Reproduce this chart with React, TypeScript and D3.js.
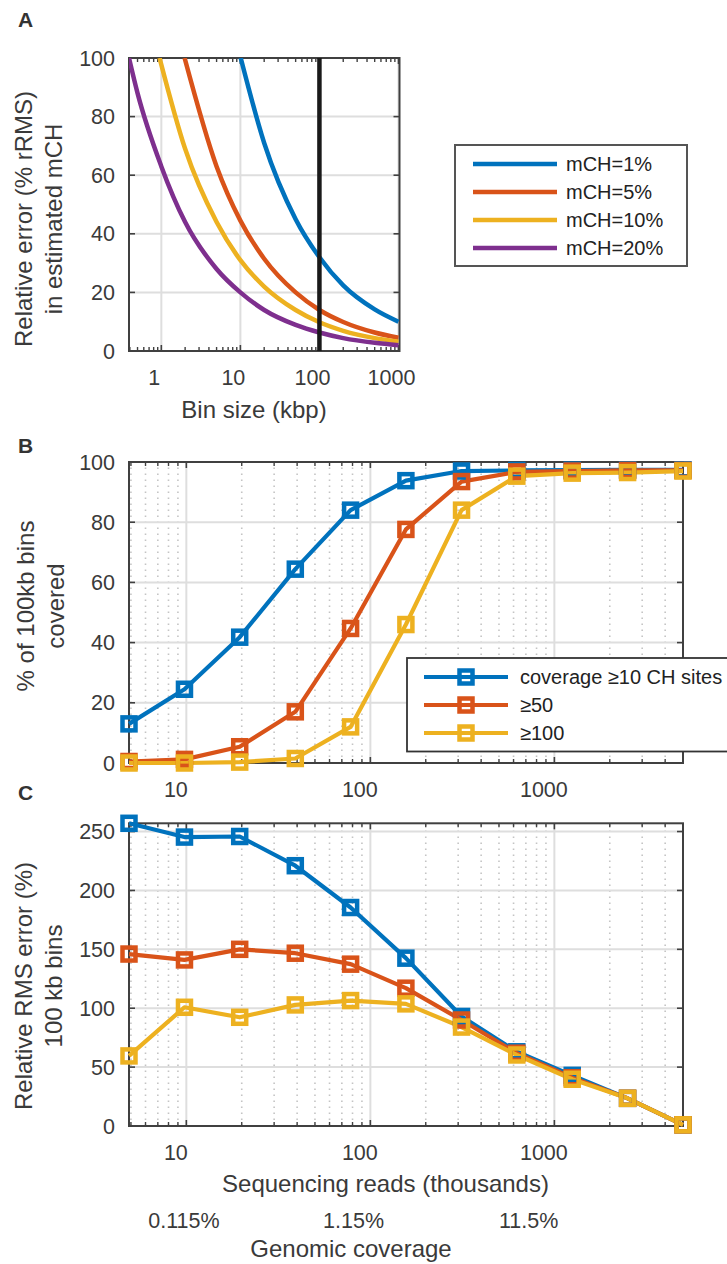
import * as d3 from 'd3';

const FONT = "'Liberation Sans', Arial, Helvetica, sans-serif";
const INK = '#3a3a3a';
const FRAME = '#404040';
const GRID = '#dedede';
const BLUE = '#0072bd';
const ORANGE = '#d95319';
const YELLOW = '#edb120';
const PURPLE = '#7e2f8e';

// ---- Panel A: relative error vs bin size
const mch1Bins = [10.1, 20, 50, 100, 200, 500, 1000];
const mch1Err = [100, 71, 45, 32, 22.4, 14.2, 10];
const mch5Bins = [1.97, 5, 10, 20, 50, 100, 200, 500, 1000];
const mch5Err = [100, 63, 44.5, 31.5, 20, 14, 9.9, 6.3, 4.5];
const mch10Bins = [0.95, 2, 5, 10, 20, 50, 100, 200, 500, 1000];
const mch10Err = [100, 69, 44, 31, 22, 14, 9.8, 6.9, 4.4, 3.2];
const mch20Bins = [0.39, 0.5, 1, 2, 5, 10, 20, 50, 100, 200, 500, 1000];
const mch20Err = [100, 88, 63, 44, 28, 20, 14, 8.9, 6.3, 4.4, 2.8, 2];
const chosenBin = [100];
const binTicks = [1, 10, 100, 1000];
const errTicks = [0, 20, 40, 60, 80, 100];

// ---- Panels B & C: sequencing depth (thousands of reads)
const readsK = [4.88, 9.77, 19.5, 39.1, 78.1, 156, 313, 625, 1250, 2500, 5000];
const covered10 = [13, 24.5, 41.8, 64.4, 84, 93.8, 97, 97.2, 97.3, 97.4, 97.4];
const covered50 = [0.5, 1.2, 5.4, 17, 44.7, 77.6, 93.5, 96.7, 97, 97.2, 97.2];
const covered100 = [0, 0, 0.3, 1.5, 12, 46, 84, 95.3, 96.3, 96.5, 97];
const rms10 = [257, 245.3, 245.8, 221, 185.5, 142.5, 93, 63, 43, 23.5, 1];
const rms50 = [146, 141, 150, 146.7, 137.4, 117, 90, 61.8, 41, 23.5, 1];
const rms100 = [59.5, 100.8, 92.3, 102.8, 106.5, 103.7, 84, 60.3, 39.7, 23.5, 1];
const readTicks = [10, 100, 1000];
const coveredTicks = [0, 20, 40, 60, 80, 100];
const rmsTicks = [0, 50, 100, 150, 200, 250];
const genomicReads = [9.7, 81, 725];
const genomicLabels = ['0.115%', '1.15%', '11.5%'];

const seriesA = [
  { label: 'mCH=1%', color: BLUE, bins: mch1Bins, err: mch1Err },
  { label: 'mCH=5%', color: ORANGE, bins: mch5Bins, err: mch5Err },
  { label: 'mCH=10%', color: YELLOW, bins: mch10Bins, err: mch10Err },
  { label: 'mCH=20%', color: PURPLE, bins: mch20Bins, err: mch20Err },
];
const seriesB = [
  { label: 'coverage \u226510 CH sites', color: BLUE, values: covered10 },
  { label: '\u226550', color: ORANGE, values: covered50 },
  { label: '\u2265100', color: YELLOW, values: covered100 },
];
const seriesC = [
  { color: BLUE, values: rms10 },
  { color: ORANGE, values: rms50 },
  { color: YELLOW, values: rms100 },
];

function minorValues(domain: number[]) {
  const out: number[] = [];
  for (let d = 0.1; d <= 10000; d *= 10) {
    for (let m = 2; m <= 9; m++) {
      const v = m * d;
      if (v > domain[0] * 1.001 && v < domain[1] * 0.999) out.push(v);
    }
  }
  return out;
}

// log-x axes box with gridlines and inward ticks (MATLAB-ish)
function Axes({ x, y, xTicks, yTicks, dotted, labelDx, labelY }: any) {
  const [x0, x1] = x.range();
  const [y0, y1] = y.range();
  const minors = minorValues(x.domain());
  return (
    <g>
      {dotted &&
        minors.map((v: number) => (
          <line key={'m' + v} x1={x(v)} x2={x(v)} y1={y0} y2={y1} stroke='#c4c4c4' strokeWidth={1.6} strokeDasharray='1.6 4.4' />
        ))}
      {yTicks.map((t: number) => (
        <line key={'h' + t} x1={x0} x2={x1} y1={y(t)} y2={y(t)} stroke={GRID} strokeWidth={2} />
      ))}
      {xTicks.map((t: number) => (
        <line key={'v' + t} x1={x(t)} x2={x(t)} y1={y0} y2={y1} stroke={GRID} strokeWidth={2} />
      ))}
      <rect x={x0} y={y1} width={x1 - x0} height={y0 - y1} fill='none' stroke={FRAME} strokeWidth={2} />
      {minors.map((v: number) => (
        <g key={'mt' + v} stroke={FRAME} strokeWidth={1.4}>
          <line x1={x(v)} x2={x(v)} y1={y0} y2={y0 - 4} />
          <line x1={x(v)} x2={x(v)} y1={y1} y2={y1 + 4} />
        </g>
      ))}
      {xTicks.map((t: number) => (
        <g key={'xt' + t} stroke={FRAME} strokeWidth={1.6}>
          <line x1={x(t)} x2={x(t)} y1={y0} y2={y0 - 6} />
          <line x1={x(t)} x2={x(t)} y1={y1} y2={y1 + 6} />
        </g>
      ))}
      {yTicks.map((t: number) => (
        <g key={'yt' + t} stroke={FRAME} strokeWidth={1.6}>
          <line x1={x0} x2={x0 + 6} y1={y(t)} y2={y(t)} />
          <line x1={x1} x2={x1 - 6} y1={y(t)} y2={y(t)} />
        </g>
      ))}
      {yTicks.map((t: number) => (
        <text key={'yl' + t} x={x0 - 14} y={y(t) + 7.5} textAnchor='end' fontSize={21.5} fill={INK}>
          {t}
        </text>
      ))}
      {xTicks.map((t: number) => (
        <text key={'xl' + t} x={x(t) + labelDx} y={labelY} textAnchor='middle' fontSize={21.5} fill={INK}>
          {t}
        </text>
      ))}
    </g>
  );
}

function YTitle({ lines, cx, cy }: { lines: string[]; cx: number; cy: number }) {
  return (
    <g>
      {lines.map((l, i) => (
        <text
          key={l}
          transform={`translate(${cx + i * 30},${cy}) rotate(-90)`}
          textAnchor='middle'
          dominantBaseline='central'
          fontSize={24}
          fill={INK}
        >
          {l}
        </text>
      ))}
    </g>
  );
}

function Square({ cx, cy, color }: { cx: number; cy: number; color: string }) {
  return <rect x={cx - 6.5} y={cy - 6.5} width={13} height={13} fill='none' stroke={color} strokeWidth={4.5} />;
}

function PanelA() {
  const x = d3.scaleLog().domain([0.39, 1030]).range([129, 399.5]);
  const y = d3.scaleLinear().domain([0, 100]).range([351, 58]);
  const line = d3
    .line<[number, number]>()
    .x((d) => x(d[0]))
    .y((d) => y(d[1]))
    .curve(d3.curveMonotoneX);
  return (
    <g>
      <text x={18} y={27} fontSize={21} fontWeight='bold' fill='#333'>A</text>
      <Axes x={x} y={y} xTicks={binTicks} yTicks={errTicks} dotted={false} labelDx={-7} labelY={385} />
      <clipPath id='clipA'>
        <rect x={129} y={58} width={270.5} height={293} />
      </clipPath>
      <g clipPath='url(#clipA)'>
        {seriesA.map((s) => (
          <path
            key={s.label}
            d={line(s.bins.map((b, i) => [b, s.err[i]] as [number, number])) ?? ''}
            fill='none'
            stroke={s.color}
            strokeWidth={4.5}
          />
        ))}
      </g>
      {chosenBin.map((b) => (
        <line key={b} x1={x(b)} x2={x(b)} y1={y(0)} y2={y(100)} stroke='#1a1a1a' strokeWidth={4.5} />
      ))}
      <YTitle lines={['Relative error (% rRMS)', 'in estimated mCH']} cx={23} cy={219} />
      <text x={254} y={418} textAnchor='middle' fontSize={24} fill={INK}>Bin size (kbp)</text>
      {/* legend */}
      <rect x={455} y={145} width={232} height={121} fill='white' stroke='#555' strokeWidth={2} />
      {seriesA.map((s, i) => (
        <g key={s.label}>
          <line x1={473} x2={557} y1={164 + i * 28} y2={164 + i * 28} stroke={s.color} strokeWidth={4.5} />
          <text x={566} y={164 + i * 28 + 7} fontSize={20} fill='#222'>{s.label}</text>
        </g>
      ))}
    </g>
  );
}

function ReadsPanel({ top, bottom, domainMax, values, ticks, labelY, children }: any) {
  const x = d3.scaleLog().domain([readsK[0], readsK[readsK.length - 1]]).range([129, 683]);
  const y = d3.scaleLinear().domain([0, domainMax]).range([bottom, top]);
  const line = d3
    .line<number>()
    .x((_, i) => x(readsK[i]))
    .y((d) => y(d));
  return (
    <g>
      <Axes x={x} y={y} xTicks={readTicks} yTicks={ticks} dotted={true} labelDx={-10.5} labelY={labelY} />
      {values.map((s: any) => (
        <path key={s.color} d={line(s.values) ?? ''} fill='none' stroke={s.color} strokeWidth={4.2} strokeLinejoin='round' />
      ))}
      {values.map((s: any) =>
        s.values.map((v: number, i: number) => <Square key={s.color + i} cx={x(readsK[i])} cy={y(v)} color={s.color} />)
      )}
      {children}
    </g>
  );
}

function PanelB() {
  return (
    <g>
      <text x={18} y={453} fontSize={21} fontWeight='bold' fill='#333'>B</text>
      <ReadsPanel top={462} bottom={763} domainMax={100} values={seriesB} ticks={coveredTicks} labelY={797}>
        <rect x={407} y={658} width={340} height={93.5} fill='white' stroke='#333' strokeWidth={1.8} />
        {seriesB.map((s, i) => {
          const ly = 677 + i * 28;
          return (
            <g key={s.label}>
              <line x1={424} x2={508} y1={ly} y2={ly} stroke={s.color} strokeWidth={4.2} />
              <Square cx={466} cy={ly} color={s.color} />
              <text x={520} y={ly + 7} fontSize={20} fill='#222'>{s.label}</text>
            </g>
          );
        })}
      </ReadsPanel>
      <YTitle lines={['% of 100kb bins', 'covered']} cx={25} cy={606} />
    </g>
  );
}

function PanelC() {
  const x = d3.scaleLog().domain([readsK[0], readsK[readsK.length - 1]]).range([129, 683]);
  return (
    <g>
      <text x={18} y={800} fontSize={21} fontWeight='bold' fill='#333'>C</text>
      <ReadsPanel top={823.3} bottom={1126} domainMax={257} values={seriesC} ticks={rmsTicks} labelY={1160} />
      <YTitle lines={['Relative RMS error (%)', '100 kb bins']} cx={23} cy={986} />
      <text x={385.5} y={1192} textAnchor='middle' fontSize={24} fill={INK}>Sequencing reads (thousands)</text>
      {genomicReads.map((r, i) => (
        <text key={r} x={x(r)} y={1228} textAnchor='middle' fontSize={21.5} fill={INK}>
          {genomicLabels[i]}
        </text>
      ))}
      <text x={351} y={1257} textAnchor='middle' fontSize={24} fill={INK}>Genomic coverage</text>
    </g>
  );
}

export default function App() {
  return (
    <svg
      width={727}
      height={1264}
      viewBox='0 0 727 1264'
      style={{ position: 'absolute', left: 0, top: 0, background: 'white' }}
      fontFamily={FONT}
    >
      <rect width={727} height={1264} fill='white' />
      <PanelA />
      <PanelB />
      <PanelC />
    </svg>
  );
}
